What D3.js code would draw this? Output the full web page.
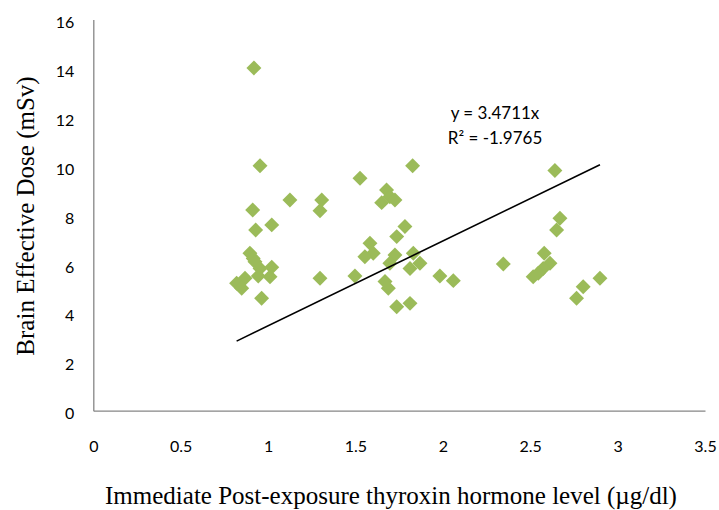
<!DOCTYPE html>
<html>
<head>
<meta charset="utf-8">
<script src="https://cdn.jsdelivr.net/npm/d3@7"></script>
<style>
  html, body { margin: 0; padding: 0; background: #fff; }
  svg { display: block; }
</style>
</head>
<body>
<svg id="chart" width="719" height="510"></svg>
<script>
// ---- data ----
const xValues = [
  0.919, 0.954, 1.125, 1.307, 1.297, 0.912, 1.021, 0.929,
  0.896, 0.915, 0.925, 0.954, 1.021, 1.011, 0.944, 0.868, 0.820, 0.849, 0.963, 1.297,
  1.827, 1.526, 1.678, 1.697, 1.650, 1.726, 1.783, 1.736, 1.583, 1.602, 1.554, 1.726,
  1.697, 1.831, 1.869, 1.812, 1.497, 1.669, 1.688, 1.736, 1.812, 1.983, 2.060,
  2.641, 2.670, 2.651, 2.346, 2.580, 2.613, 2.574, 2.546, 2.517, 2.899, 2.803, 2.765
];
const yValues = [
  14.02, 10.02, 8.62, 8.62, 8.18, 8.21, 7.60, 7.39,
  6.44, 6.23, 6.09, 5.82, 5.87, 5.48, 5.51, 5.42, 5.21, 5.01, 4.60, 5.42,
  10.02, 9.51, 9.03, 8.75, 8.51, 8.62, 7.53, 7.12, 6.85, 6.44, 6.30, 6.37,
  6.03, 6.44, 6.03, 5.82, 5.51, 5.28, 5.01, 4.25, 4.39, 5.51, 5.32,
  9.82, 7.87, 7.39, 6.00, 6.44, 6.03, 5.82, 5.62, 5.48, 5.42, 5.07, 4.60
];
const xTicks = [0, 0.5, 1, 1.5, 2, 2.5, 3, 3.5];
const yTicks = [0, 2, 4, 6, 8, 10, 12, 14, 16];
const slope = 3.4711;
const equationLines = ["y = 3.4711x", "R² = -1.9765"];
const xTitle = "Immediate Post-exposure thyroxin hormone level (µg/dl)";
const yTitle = "Brain Effective Dose (mSv)";

// ---- layout ----
const svg = d3.select("#chart");
const mLeft = 93.3, mRight = 705, mTop = 19.5, mBottom = 410.7;
const x = d3.scaleLinear().domain([0, 3.5]).range([mLeft, mRight]);
const y = d3.scaleLinear().domain([0, 16]).range([mBottom, mTop]);

const axisColor = "#868686";
const tickFont = "Lato, 'Open Sans', sans-serif";
const serif = "'Liberation Serif', 'Times New Roman', serif";

// x axis
const xAxis = svg.append("g").attr("transform", `translate(0,${mBottom})`)
  .call(d3.axisBottom(x).tickValues(xTicks).tickSize(0).tickPadding(0)
    .tickFormat(d => String(d)));
xAxis.select(".domain").attr("stroke", axisColor).attr("stroke-width", 1.3);
xAxis.selectAll("text").attr("font-family", tickFont).attr("font-size", 16)
  .attr("fill", "#000").attr("dy", 0).attr("y", 41);

// y axis
const yAxis = svg.append("g").attr("transform", `translate(${mLeft},0)`)
  .call(d3.axisLeft(y).tickValues(yTicks).tickSize(0).tickPadding(0)
    .tickFormat(d => String(d)));
yAxis.select(".domain").attr("stroke", axisColor).attr("stroke-width", 1.3);
yAxis.selectAll("text").attr("font-family", tickFont).attr("font-size", 16)
  .attr("fill", "#000").attr("x", -19).attr("dy", "0.5em");

// points
const pts = xValues.map((v, i) => ({ x: v, y: yValues[i] }));
const sym = d3.symbol(d3.symbolSquare, 112);
svg.append("g").selectAll("path").data(pts).join("path")
  .attr("d", sym)
  .attr("transform", d => `translate(${x(d.x)},${y(d.y)}) rotate(45)`)
  .attr("fill", "#9bbb59");

// trendline
const xMin = d3.min(xValues), xMax = d3.max(xValues);
svg.append("line")
  .attr("x1", x(xMin)).attr("y1", y(slope * xMin))
  .attr("x2", x(xMax)).attr("y2", y(slope * xMax))
  .attr("stroke", "#000").attr("stroke-width", 1.6);

// equation
svg.append("g").selectAll("text").data(equationLines).join("text")
  .attr("x", 495).attr("y", (d, i) => 119 + i * 25)
  .attr("text-anchor", "middle")
  .attr("font-family", tickFont).attr("font-size", 17)
  .text(d => d);

// axis titles
svg.append("text")
  .attr("x", 391).attr("y", 504)
  .attr("text-anchor", "middle")
  .attr("font-family", serif).attr("font-size", 25)
  .text(xTitle);

svg.append("text")
  .attr("transform", `translate(34,216) rotate(-90)`)
  .attr("text-anchor", "middle")
  .attr("font-family", serif).attr("font-size", 25)
  .text(yTitle);
</script>
</body>
</html>
